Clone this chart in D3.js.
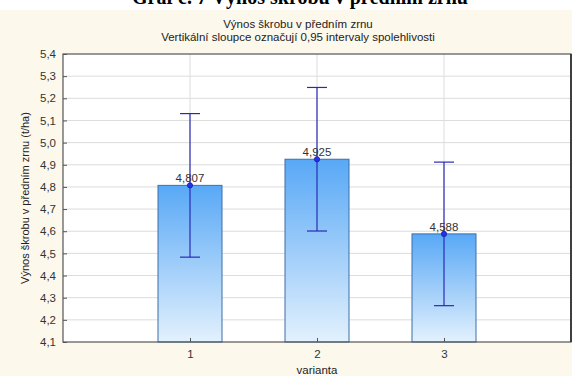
<!DOCTYPE html>
<html>
<head>
<meta charset="utf-8">
<script src="https://cdn.jsdelivr.net/npm/d3@7"></script>
<style>
  body { margin:0; background:#fff; }
  svg { display:block; }
  text { font-family: "Liberation Sans", Arial, sans-serif; }
</style>
</head>
<body>
<svg width="572" height="376"></svg>
<script>
const varianta = ['1','2','3']
const means = [4.807, 4.925, 4.588]
const ciLow = [4.483, 4.601, 4.264]
const ciHigh = [5.131, 5.249, 4.912]
const yTicks = [4.1,4.2,4.3,4.4,4.5,4.6,4.7,4.8,4.9,5.0,5.1,5.2,5.3,5.4]

const svg = d3.select('svg')
const fmt = d => d3.format('.1f')(d).replace('.', ',')

// page header, cut off at the top like in the scan
svg.append('text')
.attr('x', 300).attr('y', 4)
.attr('text-anchor','middle')
.style('font-family','"Liberation Serif", "Times New Roman", serif')
.style('font-weight','bold').style('font-size','20px')
.text('Graf č. 7 Výnos škrobu v předním zrnu')

svg.append('rect').attr('x',0).attr('y',10).attr('width',572).attr('height',366).attr('fill','#fdf8ec')

const L = 63, R = 571, T = 54, B = 342

const x = d3.scalePoint().domain(['', ...varianta, ' ']).range([L, R])
const y = d3.scaleLinear().domain([4.1, 5.4]).range([B, T])
const bw = 64

const defs = svg.append('defs')
const grad = defs.append('linearGradient').attr('id','barGrad').attr('x1',0).attr('y1',0).attr('x2',0).attr('y2',1)
grad.append('stop').attr('offset','0%').attr('stop-color','#58a8f6')
grad.append('stop').attr('offset','100%').attr('stop-color','#e3f1fd')

svg.append('rect').attr('x',L).attr('y',T).attr('width',R-L).attr('height',B-T).attr('fill','#fff')

// grid
svg.append('g').selectAll('line').data(yTicks.slice(1,-1)).enter().append('line')
.attr('x1',L).attr('x2',R).attr('y1',d=>y(d)).attr('y2',d=>y(d))
.attr('stroke','#dcdcdc').attr('stroke-width',1)
svg.append('g').selectAll('line').data(varianta).enter().append('line')
.attr('x1',d=>x(d)).attr('x2',d=>x(d)).attr('y1',T).attr('y2',B)
.attr('stroke','#dcdcdc').attr('stroke-width',1)

// bars
svg.append('g').selectAll('rect').data(varianta).enter().append('rect')
.attr('x',d=>x(d)-bw/2).attr('width',bw)
.attr('y',(d,i)=>y(means[i])).attr('height',(d,i)=>B-y(means[i]))
.attr('fill','url(#barGrad)').attr('stroke','#3d6fa8').attr('stroke-width',1)

// error bars
const eb = svg.append('g').attr('stroke','#2a2ab8').attr('stroke-width',1.2)
varianta.forEach((d,i)=>{
  eb.append('line').attr('x1',x(d)).attr('x2',x(d)).attr('y1',y(ciLow[i])).attr('y2',y(ciHigh[i]))
  eb.append('line').attr('x1',x(d)-10).attr('x2',x(d)+10).attr('y1',y(ciLow[i])).attr('y2',y(ciLow[i]))
  eb.append('line').attr('x1',x(d)-10).attr('x2',x(d)+10).attr('y1',y(ciHigh[i])).attr('y2',y(ciHigh[i]))
})
svg.append('g').selectAll('circle').data(varianta).enter().append('circle')
.attr('cx',d=>x(d)).attr('cy',(d,i)=>y(means[i])).attr('r',2.6)
.attr('fill','#2233ee').attr('stroke','#1a1aa0').attr('stroke-width',0.8)

// value labels
svg.append('g').selectAll('text').data(varianta).enter().append('text')
.attr('x',d=>x(d)).attr('y',(d,i)=>y(means[i])-3)
.attr('text-anchor','middle').style('font-size','11.5px').attr('fill','#333')
.text((d,i)=>d3.format('.3f')(means[i]).replace('.', ','))

// frame
svg.append('rect').attr('x',L).attr('y',T).attr('width',R-L).attr('height',B-T)
.attr('fill','none').attr('stroke','#555').attr('stroke-width',1.2)
svg.append('line').attr('x1',R).attr('x2',R).attr('y1',T).attr('y2',B).attr('stroke','#222').attr('stroke-width',1.5)

// axes
const yAxis = svg.append('g').attr('transform',`translate(${L},0)`)
.call(d3.axisLeft(y).tickValues(yTicks).tickFormat(fmt).tickSize(-4).tickPadding(7))
yAxis.select('.domain').remove()
yAxis.selectAll('line').attr('stroke','#555')
yAxis.selectAll('text').style('font-size','11.5px').attr('fill','#333').style('font-family','"Liberation Sans", Arial, sans-serif')

const xAxis = svg.append('g').attr('transform',`translate(0,${B})`)
.call(d3.axisBottom(x).tickValues(varianta).tickSize(-4).tickPadding(8))
xAxis.select('.domain').remove()
xAxis.selectAll('line').attr('stroke','#555')
xAxis.selectAll('text').style('font-size','11.5px').attr('fill','#333').style('font-family','"Liberation Sans", Arial, sans-serif')

// titles
svg.append('text').attr('x',298).attr('y',28).attr('text-anchor','middle')
.style('font-size','11.5px').attr('fill','#222').text('Výnos škrobu v předním zrnu')
svg.append('text').attr('x',298).attr('y',41).attr('text-anchor','middle')
.style('font-size','11.5px').attr('fill','#222').text('Vertikální sloupce označují 0,95 intervaly spolehlivosti')
svg.append('text').attr('x',x('2')).attr('y',374).attr('text-anchor','middle')
.style('font-size','11.5px').attr('fill','#222').text('varianta')
svg.append('text').attr('transform',`translate(29,${(T+B)/2}) rotate(-90)`).attr('text-anchor','middle')
.style('font-size','11px').attr('fill','#222').text('Výnos škrobu v předním zrnu (t/ha)')
</script>
</body>
</html>
